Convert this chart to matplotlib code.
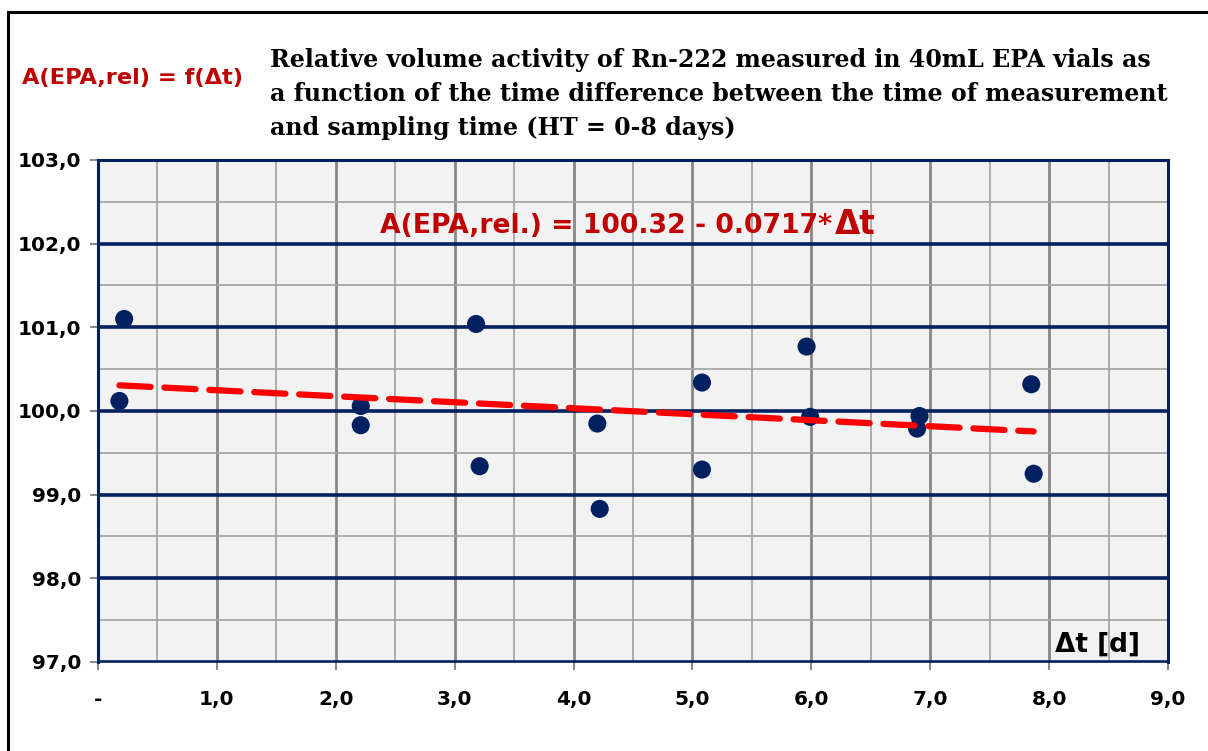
import numpy as np
import matplotlib
matplotlib.use('Agg')
import matplotlib.pyplot as plt
from matplotlib.patches import Rectangle
from matplotlib.ticker import MultipleLocator, FuncFormatter
from matplotlib.transforms import offset_copy

# time difference [d] and relative activity [%]
dt = [0.22, 0.18, 2.21, 2.21, 3.18, 3.21, 4.20, 4.22,
      5.08, 5.08, 5.96, 5.99, 6.91, 6.89, 7.85, 7.87]
a_rel = [101.10, 100.12, 100.06, 99.83, 101.04, 99.34, 99.85, 98.83,
         100.34, 99.30, 100.77, 99.93, 99.94, 99.79, 100.32, 99.25]

# linear fit  A = b0 + b1*dt
b0 = 100.32
b1 = -0.0717

navy = '#002060'
darkred = '#C00000'
sans = 'DejaVu Sans'

fig = plt.figure(figsize=(12.08, 7.51), dpi=100)
ax = fig.add_axes([98/1208, 1 - 662/751, (1168-98)/1208, (662-160)/751])
ax.set_facecolor('#F2F2F2')

ax.set_xlim(0, 9)
ax.set_ylim(97, 103)

ax.xaxis.set_major_locator(MultipleLocator(1))
ax.xaxis.set_minor_locator(MultipleLocator(0.5))
ax.yaxis.set_major_locator(MultipleLocator(1))
ax.yaxis.set_minor_locator(MultipleLocator(0.5))

ax.grid(which='minor', color='#A6A6A6', lw=1.3, zorder=0)
ax.grid(which='major', axis='x', color='#878787', lw=2.0, zorder=0)
ax.grid(which='major', axis='y', color=navy, lw=2.6, zorder=1)
ax.set_axisbelow(True)

for s in ['left', 'top', 'right']:
    ax.spines[s].set_color(navy)
    ax.spines[s].set_linewidth(2.2)
ax.spines['bottom'].set_color(navy)
ax.spines['bottom'].set_linewidth(1.2)

ax.tick_params(which='major', direction='out', length=6, width=1.5, color='#8C8C8C')
ax.tick_params(which='minor', length=0)

fmt_x = FuncFormatter(lambda v, p: '-' if abs(v) < 1e-9 else f'{v:.1f}'.replace('.', ','))
fmt_y = FuncFormatter(lambda v, p: f'{v:.1f}'.replace('.', ','))
ax.xaxis.set_major_formatter(fmt_x)
ax.yaxis.set_major_formatter(fmt_y)
for lab in ax.get_xticklabels() + ax.get_yticklabels():
    lab.set_family(sans)
    lab.set_fontweight('bold')
    lab.set_fontsize(14.5)
ax.tick_params(axis='x', pad=14)
ax.tick_params(axis='y', pad=6)

# fit line over the data range
xf = np.array([min(dt), max(dt)])
ax.plot(xf, b0 + b1 * xf, color='#FF0000', lw=4.5, ls=(0, (5, 2.2)),
        dash_capstyle='round', zorder=4)

ax.scatter(dt, a_rel, s=170, color=navy, zorder=3, edgecolors='none')

eq = ax.text((380-98)/1070, 0.868, 'A(EPA,rel.) = 100.32 - 0.0717*',
             transform=ax.transAxes, color=darkred, fontsize=19.2,
             fontweight='bold', family=sans, ha='left', va='center')
fig.canvas.draw()
w = eq.get_window_extent().width * 72 / fig.dpi
ax.text((380-98)/1070, 0.872, 'Δt',
        transform=offset_copy(ax.transAxes, fig=fig, x=w + 2, y=0, units='points'),
        color=darkred, fontsize=23.5, fontweight='bold', family=sans,
        ha='left', va='center')
ax.text((1140-98)/1070, 0.008, 'Δt [d]', transform=ax.transAxes, color='black',
        fontsize=19, fontweight='bold', family=sans, ha='right', va='bottom')

fig.text(22/1208, 1 - 78/751, 'A(EPA,rel) = f(Δt)', color=darkred,
         fontsize=16.2, fontweight='bold', family=sans, va='center', ha='left')
fig.text(270/1208, 1 - 94/751,
         'Relative volume activity of Rn-222 measured in 40mL EPA vials as\n'
         'a function of the time difference between the time of measurement\n'
         'and sampling time (HT = 0-8 days)',
         fontsize=17.1, fontweight='bold', family='DejaVu Serif',
         va='center', ha='left', linespacing=1.5)

# outer frame of the chart
fig.patches.append(Rectangle((8/1208, -0.1), 1.2, 1 - 12/751 + 0.1,
                             transform=fig.transFigure, fill=False,
                             edgecolor='black', lw=2.2))

plt.savefig('out.png', dpi=100)
